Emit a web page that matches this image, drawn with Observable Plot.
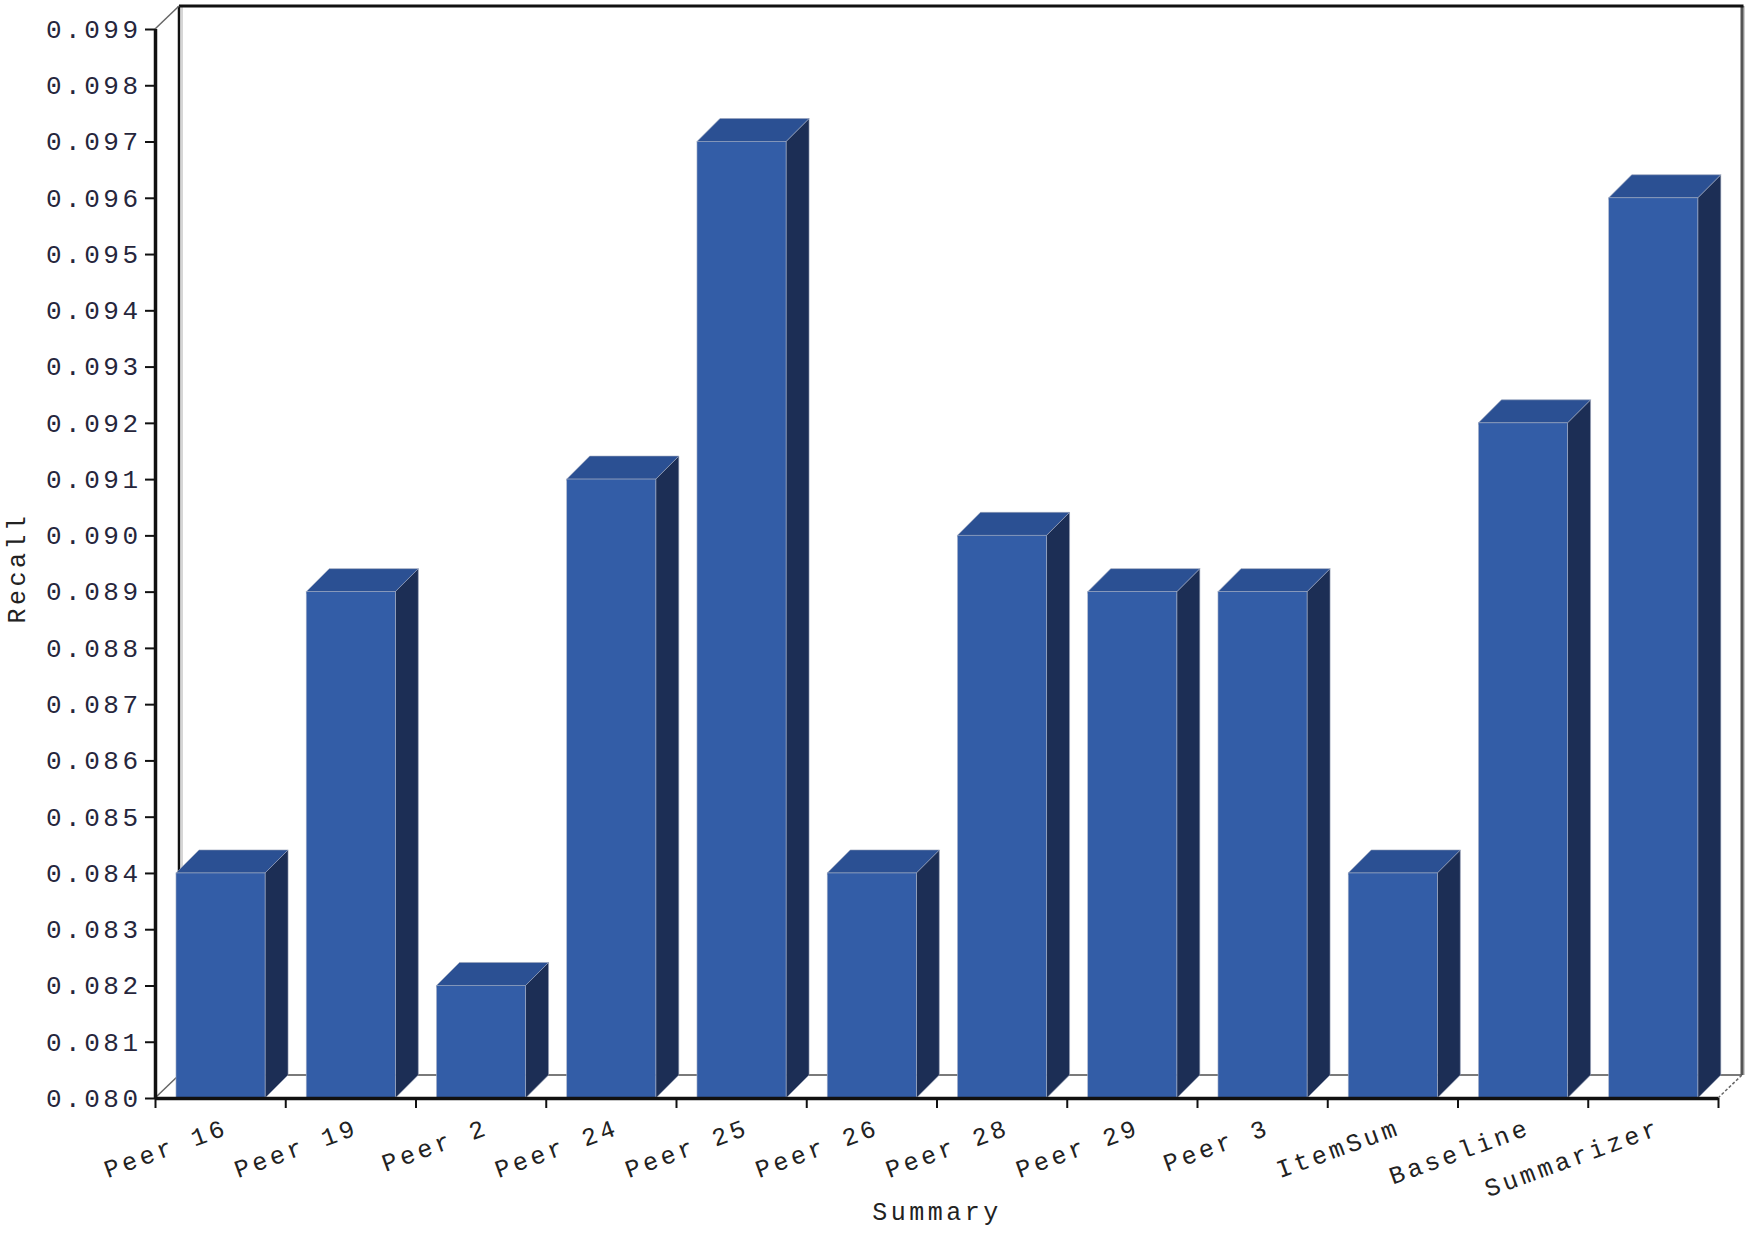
<!DOCTYPE html>
<html>
<head>
<meta charset="utf-8">
<script src="https://cdn.jsdelivr.net/npm/d3@7"></script>
<script src="https://cdn.jsdelivr.net/npm/@observablehq/plot@0.6"></script>
<style>
  html, body { margin: 0; padding: 0; background: #fff; }
  #chart svg { display: block; overflow: visible; }
</style>
</head>
<body>
<div id="chart"></div>
<script>
// ---- data ----
const categories = ["Peer 16", "Peer 19", "Peer 2", "Peer 24", "Peer 25", "Peer 26",
                    "Peer 28", "Peer 29", "Peer 3", "ItemSum", "Baseline", "Summarizer"];
const recall = [0.084, 0.089, 0.082, 0.091, 0.097, 0.084,
                0.090, 0.089, 0.089, 0.084, 0.092, 0.096];
const yTicks = d3.range(80, 100).map(v => v / 1000);
const yDomain = [0.080, 0.099];
const xTitle = "Summary";
const yTitle = "Recall";

const rows = categories.map((c, i) => ({category: c, index: i, recall: recall[i]}));
const xBoundaries = d3.range(categories.length + 1);

// ---- style ----
const FRONT = "#335da7", TOP = "#2b5093", SIDE = "#1c2e55";
const DEPTH_X = 23, DEPTH_Y = 23;       // bar depth (px)
const WALL_X = 24, WALL_Y = 23;         // wall depth (px)
const BAR_L = 0.161, BAR_R = 0.845;     // bar front face within its slot
const FONT = "'Liberation Mono', 'Courier New', monospace";

// back wall + floor, drawn through the plot scales
function walls(index, scales) {
  const {x, y} = scales;
  const x0 = x(0), x1 = x(categories.length), y0 = y(yDomain[0]), y1 = y(yDomain[1]);
  const g = d3.create("svg:g");
  g.append("rect").attr("x", x0 + WALL_X).attr("y", y1 - WALL_Y)
    .attr("width", x1 - x0).attr("height", y0 - y1).attr("fill", "#fff");
  g.append("line").attr("x1", x0 + WALL_X + 3).attr("x2", x0 + WALL_X + 3)
    .attr("y1", y1 - WALL_Y).attr("y2", y0 - WALL_Y).attr("stroke", "#d6d6d6").attr("stroke-width", 2);
  g.append("line").attr("x1", x1 + WALL_X + 2).attr("x2", x1 + WALL_X + 2)
    .attr("y1", y1 - WALL_Y).attr("y2", y0 - WALL_Y).attr("stroke", "#cfcfcf").attr("stroke-width", 2);
  g.append("line").attr("x1", x0 + WALL_X).attr("x2", x1 + WALL_X)
    .attr("y1", y0 - WALL_Y).attr("y2", y0 - WALL_Y).attr("stroke", "#7a7a7a").attr("stroke-width", 2);
  g.append("line").attr("x1", x0 + WALL_X).attr("x2", x0 + WALL_X)
    .attr("y1", y1 - WALL_Y).attr("y2", y0 - WALL_Y).attr("stroke", "#111").attr("stroke-width", 2.5);
  g.append("line").attr("x1", x1 + WALL_X).attr("x2", x1 + WALL_X)
    .attr("y1", y1 - WALL_Y).attr("y2", y0 - WALL_Y).attr("stroke", "#555").attr("stroke-width", 3);
  g.append("line").attr("x1", x0 + WALL_X).attr("x2", x1 + WALL_X + 1.5)
    .attr("y1", y1 - WALL_Y).attr("y2", y1 - WALL_Y).attr("stroke", "#111").attr("stroke-width", 3);
  for (const [px, py, dash] of [[x0, y1, null], [x0, y0, null], [x1, y0, "3,2"]]) {
    const l = g.append("line").attr("x1", px).attr("y1", py)
      .attr("x2", px + WALL_X).attr("y2", py - WALL_Y)
      .attr("stroke", "#666").attr("stroke-width", 1.5);
    if (dash) l.attr("stroke-dasharray", dash);
  }
  return g.node();
}

// top & side faces of each bar, drawn through the plot scales
function faces(index, scales) {
  const {x, y} = scales;
  const g = d3.create("svg:g");
  const yb = y(yDomain[0]);
  for (const d of rows) {
    const xl = x(d.index + BAR_L), xr = x(d.index + BAR_R), yt = y(d.recall);
    g.append("polygon")
      .attr("points", [[xr, yt], [xr + DEPTH_X, yt - DEPTH_Y], [xr + DEPTH_X, yb - DEPTH_Y], [xr, yb]].join(" "))
      .attr("fill", SIDE).attr("stroke", "#9aa3b8").attr("stroke-width", 0.6);
    g.append("polygon")
      .attr("points", [[xl, yt], [xl + DEPTH_X, yt - DEPTH_Y], [xr + DEPTH_X, yt - DEPTH_Y], [xr, yt]].join(" "))
      .attr("fill", TOP).attr("stroke", "#9aa3b8").attr("stroke-width", 0.6);
    g.append("line").attr("x1", xl).attr("x2", xr).attr("y1", yt + 1).attr("y2", yt + 1)
      .attr("stroke", "#23457f").attr("stroke-width", 2);
  }
  return g.node();
}

const chart = Plot.plot({
  width: 1750,
  height: 1234,
  marginLeft: 155,
  marginRight: 32,
  marginTop: 29,
  marginBottom: 136,
  style: {fontFamily: FONT, background: "#fff", overflow: "visible"},
  x: {type: "linear", domain: [0, categories.length], axis: null},
  y: {type: "linear", domain: yDomain, axis: null, label: null},
  marks: [
    walls,
    faces,
    Plot.rect(rows, {
      x1: d => d.index + BAR_L, x2: d => d.index + BAR_R,
      y1: yDomain[0], y2: "recall",
      fill: FRONT, stroke: "#a9b3c9", strokeWidth: 0.6
    }),
    // y axis
    Plot.axisY({
      ticks: yTicks, tickFormat: d3.format(".3f"), tickSize: 10, tickPadding: 4,
      fontSize: 26, stroke: "#111", strokeWidth: 2, color: "#26263c", label: null
    }),
    Plot.ruleX([0], {y1: yDomain[0], y2: yDomain[1], stroke: "#111", strokeWidth: 3.5}),
    // x axis
    Plot.ruleY([yDomain[0]], {x1: 0, x2: categories.length, stroke: "#111", strokeWidth: 3.5}),
    Plot.ruleX(xBoundaries, {
      x: d => d, y1: yDomain[0], y2: yDomain[0], insetBottom: -10,
      stroke: "#111", strokeWidth: 2
    }),
    Plot.text(rows, {
      x: d => d.index + 0.5, y: yDomain[0], text: "category",
      rotate: -20, textAnchor: "end", lineAnchor: "middle",
      dx: 6, dy: 28, fontSize: 25, fill: "#222"
    }),
    // titles
    Plot.text([xTitle], {
      x: categories.length / 2, frameAnchor: "bottom", dy: 113,
      fontSize: 25, fill: "#222", lineAnchor: "middle", textAnchor: "middle"
    }),
    Plot.text([yTitle], {
      frameAnchor: "left", dx: -139, dy: 4, rotate: -90,
      fontSize: 25, fill: "#222", lineAnchor: "middle", textAnchor: "middle"
    })
  ]
});

d3.select(chart).selectAll("text").style("letter-spacing", "3.5px");
document.getElementById("chart").appendChild(chart);
</script>
</body>
</html>
